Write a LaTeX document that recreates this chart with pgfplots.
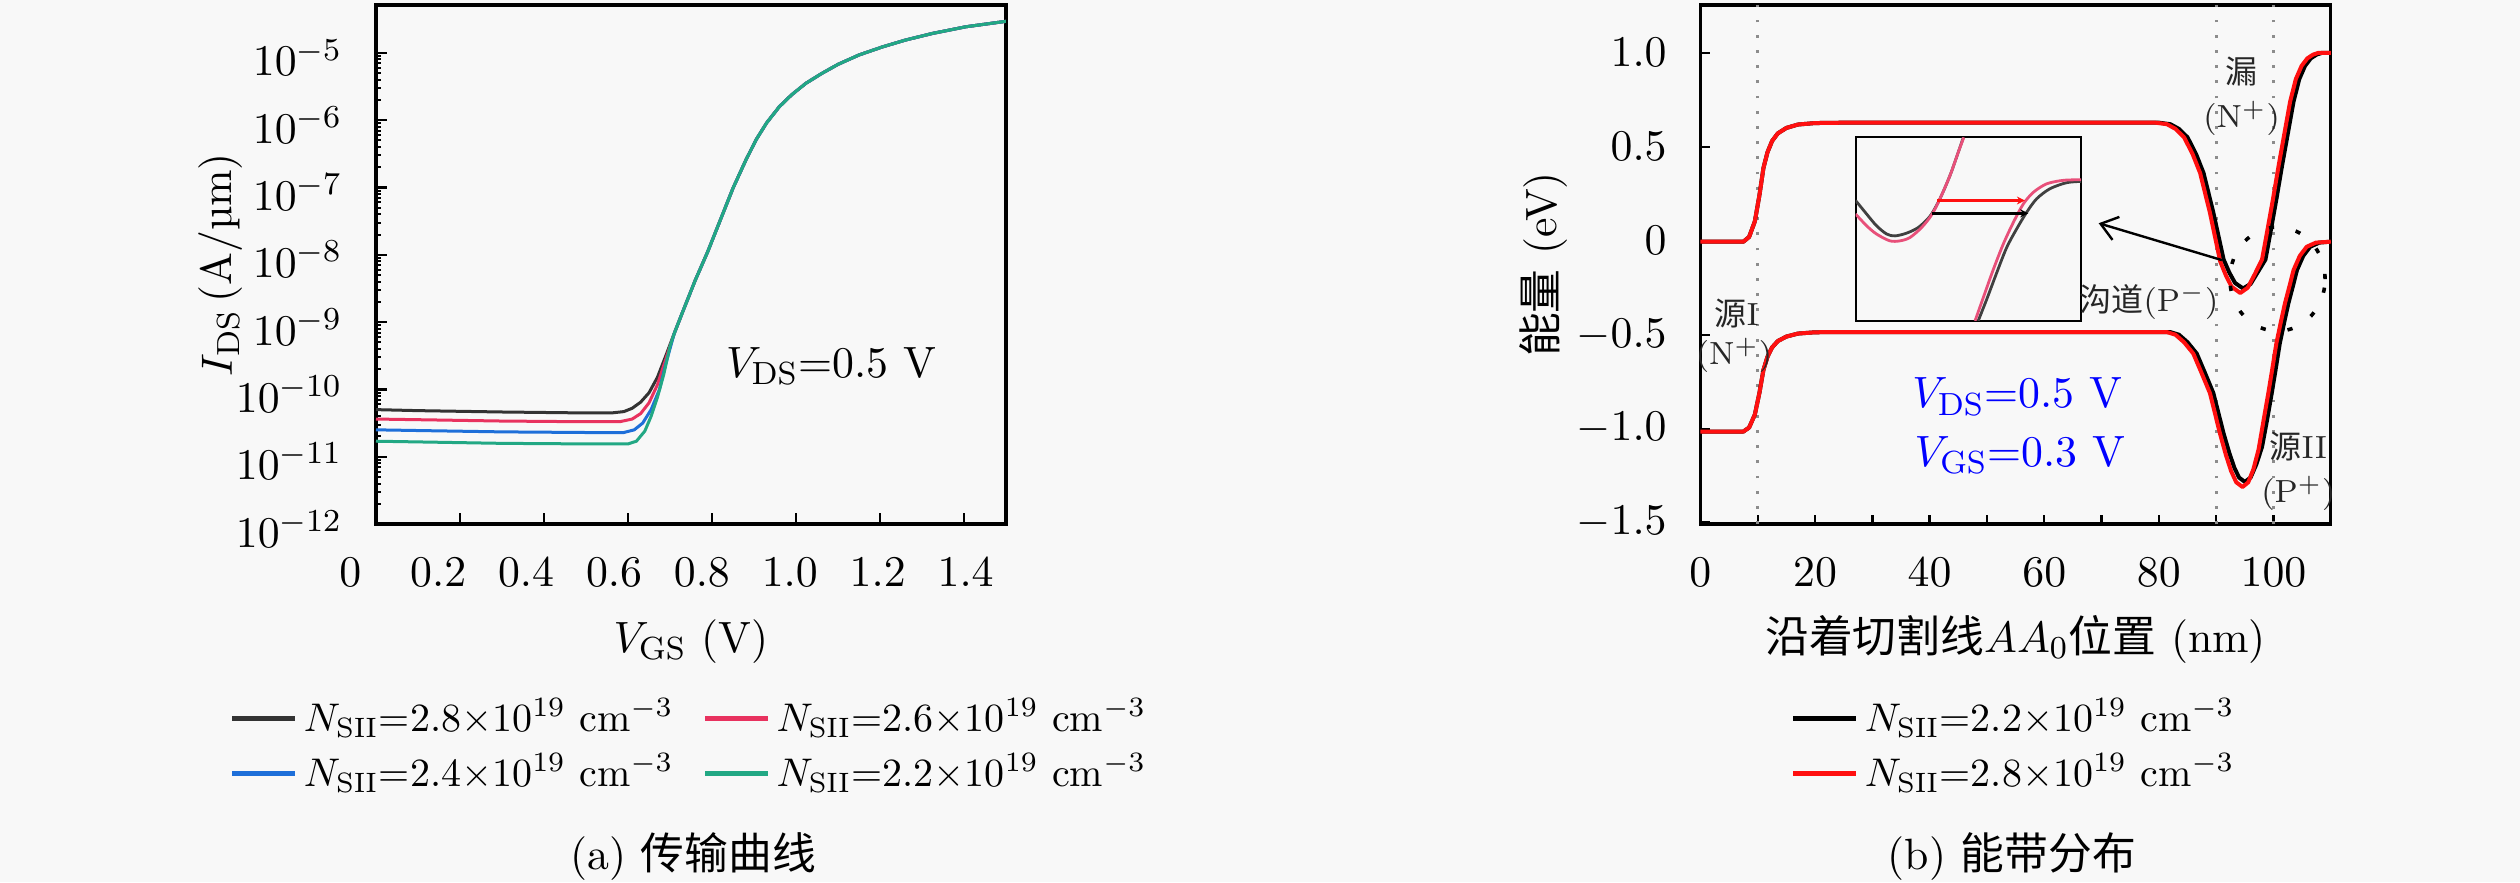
\documentclass[border=0pt,11pt]{standalone}
\usepackage{pgfplots}
\pgfplotsset{compat=1.18}
\usepackage{pgfplotstable}
\usepackage{fontspec}
\newfontfamily\cjk{Noto Sans CJK SC}
\usetikzlibrary{arrows.meta}
\definecolor{cBlack}{HTML}{333333}
\definecolor{cPink}{HTML}{E8325F}
\definecolor{cBlue}{HTML}{1E6FD9}
\definecolor{cGreen}{HTML}{22A884}
\definecolor{cRed}{HTML}{FF1010}
\definecolor{inPink}{HTML}{E8507A}
\definecolor{inGray}{HTML}{404040}
\definecolor{bg}{HTML}{F8F8F8}
\definecolor{dotgray}{HTML}{8C8C8C}
\newcommand{\xs}[2]{\makebox[0pt]{\hspace*{#1}$#2$}}

% ---- (a) transfer curves: V_GS (V), I_DS (A/um)
\pgfplotstableread{
x y
0 5.01e-11
0.1 4.84e-11
0.3 4.62e-11
0.5 4.47e-11
0.56 4.47e-11
0.59 4.68e-11
0.61 5.25e-11
0.63 6.46e-11
0.65 8.91e-11
0.67 1.51e-10
0.69 3.16e-10
0.71 6.76e-10
0.73 1.41e-9
0.76 4.17e-9
0.79 1.12e-8
0.82 3.31e-8
0.85 9.77e-8
0.88 2.51e-7
0.905 5.13e-7
0.93 9.12e-7
0.96 1.58e-6
0.99 2.40e-6
1.024 3.55e-6
1.06 4.90e-6
1.10 6.76e-6
1.15 9.33e-6
1.206 1.23e-5
1.26 1.55e-5
1.325 1.95e-5
1.405 2.45e-5
1.5 2.95e-5
}\tabA
\pgfplotstableread{
x y
0 3.63e-11
0.1 3.55e-11
0.3 3.39e-11
0.5 3.31e-11
0.58 3.31e-11
0.61 3.63e-11
0.63 4.37e-11
0.65 6.31e-11
0.67 1.17e-10
0.69 2.82e-10
0.71 6.76e-10
0.73 1.41e-9
0.76 4.17e-9
0.79 1.12e-8
0.82 3.31e-8
0.85 9.77e-8
0.88 2.51e-7
0.905 5.13e-7
0.93 9.12e-7
0.96 1.58e-6
0.99 2.40e-6
1.024 3.55e-6
1.06 4.90e-6
1.10 6.76e-6
1.15 9.33e-6
1.206 1.23e-5
1.26 1.55e-5
1.325 1.95e-5
1.405 2.45e-5
1.5 2.95e-5
}\tabB
\pgfplotstableread{
x y
0 2.51e-11
0.1 2.45e-11
0.3 2.34e-11
0.5 2.29e-11
0.59 2.29e-11
0.615 2.51e-11
0.635 3.16e-11
0.655 5.01e-11
0.675 1.0e-10
0.69 2.40e-10
0.71 6.76e-10
0.73 1.41e-9
0.76 4.17e-9
0.79 1.12e-8
0.82 3.31e-8
0.85 9.77e-8
0.88 2.51e-7
0.905 5.13e-7
0.93 9.12e-7
0.96 1.58e-6
0.99 2.40e-6
1.024 3.55e-6
1.06 4.90e-6
1.10 6.76e-6
1.15 9.33e-6
1.206 1.23e-5
1.26 1.55e-5
1.325 1.95e-5
1.405 2.45e-5
1.5 2.95e-5
}\tabC
\pgfplotstableread{
x y
0 1.70e-11
0.1 1.66e-11
0.3 1.58e-11
0.5 1.55e-11
0.6 1.55e-11
0.62 1.70e-11
0.64 2.40e-11
0.655 3.98e-11
0.67 7.59e-11
0.685 1.66e-10
0.70 4.37e-10
0.71 6.76e-10
0.73 1.41e-9
0.76 4.17e-9
0.79 1.12e-8
0.82 3.31e-8
0.85 9.77e-8
0.88 2.51e-7
0.905 5.13e-7
0.93 9.12e-7
0.96 1.58e-6
0.99 2.40e-6
1.024 3.55e-6
1.06 4.90e-6
1.10 6.76e-6
1.15 9.33e-6
1.206 1.23e-5
1.26 1.55e-5
1.325 1.95e-5
1.405 2.45e-5
1.5 2.95e-5
}\tabD

% ---- (b) band diagram: position (nm), energy (eV)
\pgfplotstableread{
x y
0 -0.005
5 -0.005
7.5 -0.005
8.5 0.02
9.5 0.103
10.3 0.242
11 0.387
11.7 0.47
12.5 0.53
13.5 0.571
15 0.60
17 0.618
20 0.626
25 0.628
80 0.628
82 0.62
83.5 0.595
85 0.55
86.5 0.46
87.8 0.36
89.5 0.15
91.3 -0.10
92.3 -0.17
93.3 -0.225
94.7 -0.254
96 -0.23
97.2 -0.17
98.6 -0.10
99.5 0.05
100.5 0.22
101.5 0.40
102.5 0.57
103.5 0.74
104.5 0.86
105.5 0.93
106.5 0.97
107.5 0.99
108.5 1.0
110 1.0
}\bkU
\pgfplotstableread{
x y
0 -1.015
7.5 -1.015
8.5 -0.994
9.5 -0.925
10.3 -0.809
11 -0.687
11.7 -0.618
12.5 -0.568
13.5 -0.534
15 -0.510
17 -0.494
20 -0.487
25 -0.486
82 -0.486
83.5 -0.50
85 -0.54
86.6 -0.60
88 -0.70
89.5 -0.81
91.3 -1.026
92.3 -1.13
93.2 -1.21
94 -1.26
95 -1.283
96 -1.26
97 -1.19
98 -1.097
98.9 -0.95
99.7 -0.81
100.4 -0.68
101.1 -0.546
101.9 -0.43
102.6 -0.333
103.4 -0.24
104.1 -0.156
105.2 -0.08
106.4 -0.032
108 -0.01
110 -0.005
}\bkL
\pgfplotstableread{
x y
0 -0.005
5 -0.005
7.5 -0.005
8.5 0.02
9.5 0.103
10.3 0.242
11 0.387
11.7 0.47
12.5 0.53
13.5 0.571
15 0.60
17 0.618
20 0.626
25 0.628
79.4 0.628
81.4 0.62
82.9 0.595
84.4 0.55
85.9 0.46
87.2 0.36
88.9 0.15
90.7 -0.11
91.7 -0.185
92.7 -0.245
94.2 -0.278
95.5 -0.25
96.7 -0.18
98.0 -0.10
98.9 0.05
99.9 0.22
100.9 0.40
101.9 0.57
102.9 0.74
103.9 0.86
104.9 0.93
105.9 0.97
106.9 0.99
107.9 1.0
110 1.0
}\rdU
\pgfplotstableread{
x y
0 -1.015
7.5 -1.015
8.5 -0.994
9.5 -0.925
10.3 -0.809
11 -0.687
11.7 -0.618
12.5 -0.568
13.5 -0.534
15 -0.510
17 -0.494
20 -0.487
25 -0.486
81.4 -0.486
82.9 -0.50
84.4 -0.54
86.0 -0.60
87.4 -0.70
88.9 -0.81
90.7 -1.03
91.7 -1.14
92.6 -1.225
93.5 -1.285
94.6 -1.31
95.6 -1.285
96.5 -1.215
97.4 -1.11
98.3 -0.95
99.1 -0.81
99.8 -0.68
100.5 -0.546
101.3 -0.43
102.0 -0.333
102.8 -0.24
103.5 -0.156
104.6 -0.08
105.8 -0.032
107.4 -0.01
110 -0.005
}\rdL

\begin{document}
\begin{tikzpicture}
\path[use as bounding box] (0,0) rectangle (630pt,220.5pt);
\fill[bg] (0,0) rectangle (630pt,220.5pt);

% ================= (a)
\begin{semilogyaxis}[
  at={(94pt,89.5pt)}, anchor=south west,
  scale only axis, width=157.5pt, height=129.75pt,
  xmin=0, xmax=1.5, ymin=1e-12, ymax=5.15e-5,
  axis line style={line width=0.8pt},
  tick align=inside, tick pos=left,
  major tick length=2.8pt, minor tick length=1.3pt,
  major tick style={line width=0.6pt, black},
  minor tick style={line width=0.5pt, black},
  xtick={0,0.2,0.4,0.6,0.8,1.0,1.2,1.4},
  xticklabels={\xs{-12.86pt}{0},\xs{-10.9pt}{0.2},\xs{-8.96pt}{0.4},\xs{-7.0pt}{0.6},\xs{-5.06pt}{0.8},\xs{-3.1pt}{1.0},\xs{-1.16pt}{1.2},\xs{0.8pt}{1.4}},
  ytick={1e-12,1e-11,1e-10,1e-9,1e-8,1e-7,1e-6,1e-5},
  xticklabel style={yshift=-4.6pt},
  yticklabel style={xshift=-4.6pt, yshift=-1.2pt},
  xlabel={$V_{\mathrm{GS}}$ (V)},
  ylabel={$I_{\mathrm{DS}}$\,(A/µm)},
  xlabel style={at={(axis description cs:0.5,-0.2466)}, anchor=base},
  ylabel style={at={(axis description cs:-0.2286,0.5)}, anchor=base},
  legend columns=2,
  legend style={draw=none, fill=none, at={(axis description cs:0.5,-0.3237)}, anchor=north,
    font=\fontsize{10}{12}\selectfont, inner sep=0pt, row sep=0.9pt,
    nodes={inner sep=1.5pt},
    /tikz/every even column/.append style={column sep=5.75pt}},
  legend image code/.code={\draw[#1, line width=1.3pt] (0pt,0pt) -- (15.75pt,0pt);},
]
\addplot[cBlack, line width=0.75pt] table {\tabA};
\addlegendentry{$N_{\mathrm{SII}}$=2.8$\times$10$^{19}$ cm$^{-3}$}
\addplot[cPink, line width=0.75pt] table {\tabB};
\addlegendentry{$N_{\mathrm{SII}}$=2.6$\times$10$^{19}$ cm$^{-3}$}
\addplot[cBlue, line width=0.75pt] table {\tabC};
\addlegendentry{$N_{\mathrm{SII}}$=2.4$\times$10$^{19}$ cm$^{-3}$}
\addplot[cGreen, line width=0.75pt] table {\tabD};
\addlegendentry{$N_{\mathrm{SII}}$=2.2$\times$10$^{19}$ cm$^{-3}$}
\end{semilogyaxis}

% ================= (b)
\begin{axis}[
  at={(425.1pt,89.5pt)}, anchor=south west,
  scale only axis, width=157.6pt, height=129.75pt,
  xmin=0, xmax=110, ymin=-1.507, ymax=1.254,
  axis line style={line width=0.8pt},
  tick align=inside, tick pos=left,
  major tick length=2.3pt, minor tick length=2.3pt,
  major tick style={line width=0.6pt, black},
  minor tick style={line width=0.6pt, black},
  xtick={0,20,40,60,80,100}, minor x tick num=1,
  ytick={-1.5,-1,-0.5,0,0.5,1},
  yticklabels={$-1.5$,$-1.0$,$-0.5$,$0$,$0.5$,$1.0$},
  xticklabel style={yshift=-4.6pt},
  yticklabel style={xshift=-4.6pt},
  xlabel={{\cjk 沿着切割线}$AA_0${\cjk 位置} (nm)},
  ylabel={{\cjk 能量} (eV)},
  xlabel style={at={(axis description cs:0.5,-0.2466)}, anchor=base},
  ylabel style={at={(axis description cs:-0.2275,0.5)}, anchor=base},
  legend columns=1,
  legend style={draw=none, fill=none, at={(axis description cs:0.5,-0.3237)}, anchor=north,
    font=\fontsize{10}{12}\selectfont, inner sep=0pt, row sep=0.9pt,
    nodes={inner sep=1.5pt}},
  legend image code/.code={\draw[#1, line width=1.3pt] (0pt,0pt) -- (15.75pt,0pt);},
]
\addplot[forget plot, dotgray, line width=0.7pt, dash pattern=on 0.7pt off 3.1pt] coordinates {(10,-1.507) (10,1.254)};
\addplot[forget plot, dotgray, line width=0.7pt, dash pattern=on 0.7pt off 3.1pt] coordinates {(90,-1.507) (90,1.254)};
\addplot[forget plot, dotgray, line width=0.7pt, dash pattern=on 0.7pt off 3.1pt] coordinates {(100,-1.507) (100,1.254)};
\addplot[black, line width=1.0pt, line join=round] table {\bkU};
\addlegendentry{$N_{\mathrm{SII}}$=2.2$\times$10$^{19}$ cm$^{-3}$}
\addplot[forget plot, black, line width=1.0pt, line join=round] table {\bkL};
\addplot[cRed, line width=1.0pt, line join=round] table {\rdU};
\addlegendentry{$N_{\mathrm{SII}}$=2.8$\times$10$^{19}$ cm$^{-3}$}
\addplot[forget plot, cRed, line width=1.0pt, line join=round] table {\rdL};
\draw[-{Straight Barb[length=4pt,width=6pt]}, line width=0.6pt] (axis cs:91.0,-0.103) -- (axis cs:69.5,0.093);
\draw[line width=0.9pt, dash pattern=on 1.3pt off 5.5pt] (axis cs:100.7,-0.204) ellipse [x radius=11.9pt, y radius=13pt];
\end{axis}

% ================= inset
\begin{axis}[
  at={(463.9pt,140.3pt)}, anchor=south west,
  scale only axis, width=56.35pt, height=45.85pt,
  xmin=0, xmax=1, ymin=0, ymax=1,
  xtick=\empty, ytick=\empty,
  axis line style={line width=0.5pt},
]
\addplot[inGray, line width=0.7pt, smooth] coordinates {(0,0.656) (0.049,0.582) (0.093,0.518) (0.138,0.473) (0.175,0.463) (0.226,0.478) (0.278,0.509) (0.330,0.570) (0.374,0.665) (0.419,0.793) (0.456,0.921) (0.478,1.0)};
\addplot[inGray, line width=0.7pt, smooth] coordinates {(0.544,0) (0.581,0.115) (0.626,0.262) (0.670,0.399) (0.714,0.5) (0.759,0.592) (0.803,0.665) (0.862,0.720) (0.936,0.753) (1,0.760)};
\addplot[inPink, line width=0.7pt, smooth] coordinates {(0,0.582) (0.049,0.518) (0.093,0.473) (0.152,0.436) (0.197,0.436) (0.241,0.454) (0.293,0.509) (0.337,0.577) (0.374,0.665) (0.419,0.793) (0.456,0.921) (0.48,1.0)};
\addplot[inPink, line width=0.7pt, smooth] coordinates {(0.53,0) (0.566,0.125) (0.611,0.280) (0.655,0.418) (0.700,0.537) (0.744,0.637) (0.789,0.701) (0.848,0.747) (0.922,0.766) (1,0.769)};
\addplot[cRed, line width=0.6pt, -{Stealth[length=2pt,width=2pt]}] coordinates {(0.362,0.656) (0.751,0.656)};
\addplot[black, line width=0.6pt, -{Stealth[length=2pt,width=2pt]}] coordinates {(0.337,0.586) (0.766,0.586)};
\end{axis}

% ================= annotations
\node[anchor=base] at (207.75pt,126.25pt) {$V_{\mathrm{DS}}$=0.5 V};
\node[anchor=base, text=blue] at (504.3pt,118.6pt) {$V_{\mathrm{DS}}$=0.5 V};
\node[anchor=base, text=blue] at (505pt,104pt) {$V_{\mathrm{GS}}$=0.3 V};
\begin{scope}[every node/.style={font=\fontsize{8}{9.6}\selectfont, text=black!85, inner sep=0.5pt}]
\node at (560.4pt,202.6pt) {\cjk 漏};
\node at (560.4pt,190.9pt) {(N$^{+}$)};
\node at (537.25pt,145.1pt) {{\cjk 沟道}(P$^{-}$)};
\node at (574.6pt,108.8pt) {{\cjk 源}II};
\node at (574.6pt,97.2pt) {(P$^{+}$)};
\node at (434.2pt,142.2pt) {{\cjk 源}I};
\node at (433.5pt,131.6pt) {(N$^{+}$)};
\end{scope}
\node[anchor=base] at (173.25pt,3.25pt) {(a) {\cjk 传输曲线}};
\node[anchor=base] at (503pt,3.25pt) {(b) {\cjk 能带分布}};
\end{tikzpicture}
\end{document}
